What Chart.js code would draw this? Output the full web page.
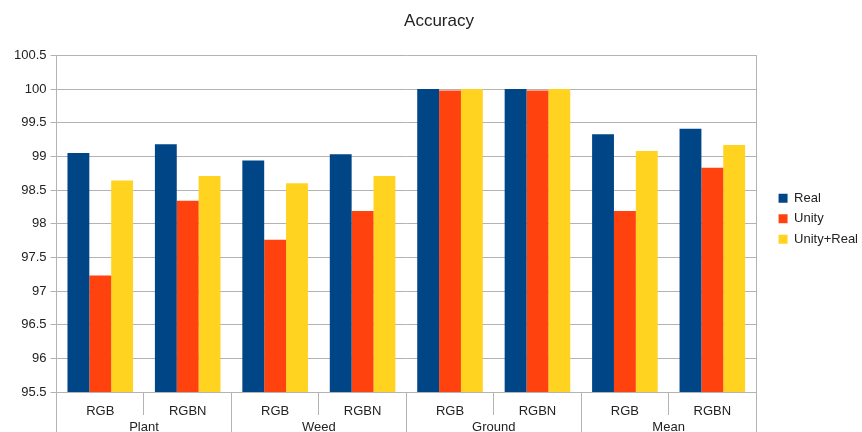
<!DOCTYPE html>
<html>
<head>
<meta charset="utf-8">
<script src="https://cdn.jsdelivr.net/npm/chart.js@4/dist/chart.umd.min.js"></script>
<style>
  html, body { margin: 0; padding: 0; background: #fff; overflow: hidden; }
</style>
</head>
<body>
<canvas id="c" width="862" height="432"></canvas>
<script>
// Sub-categories (sensor input) and their parent groups
const subCategories = ['RGB', 'RGBN', 'RGB', 'RGBN', 'RGB', 'RGBN', 'RGB', 'RGBN'];
const groups = ['Plant', 'Weed', 'Ground', 'Mean'];

// Accuracy (%) per training set
const realValues      = [99.05, 99.18, 98.94, 99.03, 100.0, 100.0, 99.33, 99.41];
const unityValues     = [97.23, 98.34, 97.76, 98.19, 99.98, 99.98, 98.19, 98.83];
const unityRealValues = [98.64, 98.71, 98.60, 98.71, 100.0, 100.0, 99.08, 99.17];

// Y axis range and step
const yMin = 95.5;
const yMax = 100.5;
const yStep = 0.5;

const FONT = "'Liberation Sans', Arial, sans-serif";
const GRID = '#b3b3b3';
const TEXT = '#222222';

// fixes an axis box to a given height (its tick lines may run past it)
const fixHeight = (h) => (scale) => { scale.height = h; };

new Chart(document.getElementById('c'), {
  type: 'bar',
  data: {
    labels: subCategories,
    datasets: [
      { label: 'Real', data: realValues, backgroundColor: '#004586', xAxisID: 'x', yAxisID: 'y' },
      { label: 'Unity', data: unityValues, backgroundColor: '#ff420e', xAxisID: 'x', yAxisID: 'y' },
      { label: 'Unity+Real', data: unityRealValues, backgroundColor: '#ffd320', xAxisID: 'x', yAxisID: 'y' }
    ]
  },
  options: {
    responsive: false,
    animation: false,
    events: [],
    datasets: { bar: { categoryPercentage: 0.75, barPercentage: 1.0 } },
    layout: { padding: { left: 10, right: -6, top: 0, bottom: 0 } },
    plugins: {
      title: {
        display: true,
        text: 'Accuracy',
        color: TEXT,
        font: { family: FONT, size: 17, weight: 'normal' },
        padding: { top: 11, bottom: 24 }
      },
      legend: {
        position: 'right',
        align: 'center',
        title: { display: true, text: ' ', font: { family: FONT, size: 4 }, padding: 0.35 },
        labels: {
          color: TEXT,
          font: { family: FONT, size: 13 },
          boxWidth: 9,
          boxHeight: 9,
          padding: 7.5
        }
      },
      tooltip: { enabled: false }
    },
    scales: {
      // inner row: RGB / RGBN with short separators
      x: {
        position: 'bottom',
        weight: 0,
        grid: { offset: true, drawOnChartArea: false, color: GRID, tickLength: 23 },
        border: { display: true, color: GRID },
        ticks: { color: TEXT, font: { family: FONT, size: 13 }, padding: -11.5, maxRotation: 0, autoSkip: false },
        afterFit: fixHeight(25)
      },
      // full-height separators between the groups
      xGroupLines: {
        type: 'category',
        position: 'bottom',
        weight: -1,
        labels: groups,
        offset: true,
        grid: { offset: true, drawOnChartArea: false, color: GRID, tickLength: 45 },
        border: { display: false },
        ticks: { display: false },
        afterFit: fixHeight(0)
      },
      // outer row: group names
      x2: {
        type: 'category',
        position: 'bottom',
        weight: 1,
        labels: groups,
        offset: true,
        grid: { display: false, drawTicks: false },
        border: { display: false },
        ticks: { color: TEXT, font: { family: FONT, size: 13 }, padding: 3, maxRotation: 0, autoSkip: false },
        afterFit: fixHeight(15)
      },
      y: {
        min: yMin,
        max: yMax,
        ticks: {
          stepSize: yStep,
          color: TEXT,
          font: { family: FONT, size: 13 },
          padding: 4,
          callback: (v) => String(Math.round(v * 10) / 10)
        },
        grid: { color: GRID, tickLength: 6 },
        border: { display: true, color: GRID }
      },
      yRight: {
        position: 'right',
        min: yMin,
        max: yMax,
        ticks: { display: false },
        grid: { display: false },
        border: { display: true, color: GRID },
        afterFit: (scale) => { scale.width = 15; }
      }
    }
  }
});
</script>
</body>
</html>
